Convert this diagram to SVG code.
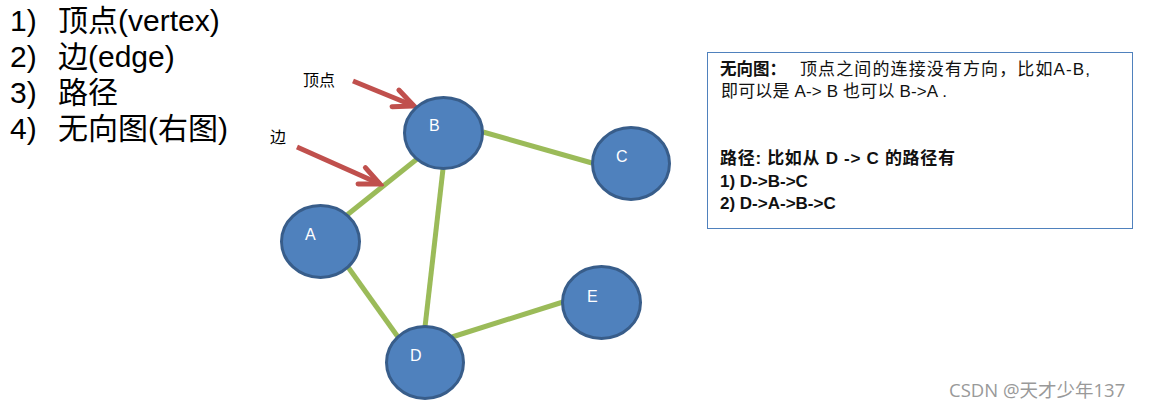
<svg xmlns="http://www.w3.org/2000/svg" width="1149" height="410" viewBox="0 0 1149 410">
<style>
.list{font-family:"Liberation Sans","Noto Sans CJK SC",sans-serif;font-size:30px;fill:#000}
.node{fill:#4F81BD;stroke:#385D8A;stroke-width:3}
.nl{font-family:"Liberation Sans","Noto Sans CJK SC",sans-serif;font-size:16px;fill:#fff}
.edge{stroke:#9BBB59;stroke-width:5;fill:none}
.red{stroke:#C0504D;stroke-width:5;fill:none}
.ann{font-family:"Liberation Serif","Noto Sans CJK SC",serif;font-size:16px;fill:#000}
.bx{font-family:"Liberation Sans","Noto Sans CJK SC",sans-serif;font-size:17px;fill:#111}
.b{font-weight:bold}
.wm{font-family:"Open Sans","Noto Sans CJK SC",sans-serif;font-size:18.5px;fill:#999}
</style>
<defs>
<marker id="ah" viewBox="-24 -12 28 24" refX="0" refY="0" markerWidth="28" markerHeight="24" markerUnits="userSpaceOnUse" orient="auto">
<path d="M-20,-9 L0,0 L-20,9" stroke="#C0504D" stroke-width="5" fill="none" stroke-linecap="round"/>
</marker>
</defs>
<g id="list">
<text class="list" x="10" y="31">1)</text><text class="list" x="58" y="31">顶点(vertex)</text>
<text class="list" x="10" y="67">2)</text><text class="list" x="58" y="67">边(edge)</text>
<text class="list" x="10" y="103">3)</text><text class="list" x="58" y="103">路径</text>
<text class="list" x="10" y="139">4)</text><text class="list" x="58" y="139">无向图(右图)</text>
</g>
<g id="connectors">
<line class="edge" x1="483" y1="132" x2="592" y2="163"/>
<line class="edge" x1="347" y1="215" x2="417" y2="159"/>
<line class="edge" x1="443" y1="169" x2="425" y2="327"/>
<line class="edge" x1="348" y1="267" x2="398" y2="337"/>
<line class="edge" x1="452" y1="337" x2="563" y2="302"/>
<line class="red" x1="353" y1="81" x2="414" y2="106" marker-end="url(#ah)"/>
<line class="red" x1="297" y1="147" x2="380" y2="184" marker-end="url(#ah)"/>
</g>
<g id="label-vertex"><text class="ann" x="303" y="86">顶点</text></g>
<g id="label-edge"><text class="ann" x="270" y="143">边</text></g>
<g id="node-B"><ellipse class="node" cx="443.5" cy="133" rx="39" ry="35.5"/><text class="nl" x="429" y="131">B</text></g>
<g id="node-C"><ellipse class="node" cx="631" cy="163.5" rx="38.5" ry="36"/><text class="nl" x="616" y="162">C</text></g>
<g id="node-A"><ellipse class="node" cx="320.5" cy="241.5" rx="39" ry="36"/><text class="nl" x="305" y="240">A</text></g>
<g id="node-D"><ellipse class="node" cx="425" cy="362.5" rx="38.5" ry="36"/><text class="nl" x="410" y="361">D</text></g>
<g id="node-E"><ellipse class="node" cx="601.5" cy="302.5" rx="39" ry="36"/><text class="nl" x="587" y="302">E</text></g>
<g id="note">
<rect x="707.5" y="52.5" width="425" height="176" fill="#fff" stroke="#4F81BD" stroke-width="1"/>
<text class="bx b" x="720" y="75" textLength="66" lengthAdjust="spacingAndGlyphs">无向图：</text>
<text class="bx" x="800" y="75" textLength="290" lengthAdjust="spacing">顶点之间的连接没有方向，比如A-B,</text>
<text class="bx" x="721" y="97" textLength="226" lengthAdjust="spacing">即可以是 A-&gt; B 也可以 B-&gt;A .</text>
<text class="bx b" x="720" y="164" font-size="17" textLength="235" lengthAdjust="spacing">路径:  比如从 D -&gt; C 的路径有</text>
<text class="bx b" x="720" y="187" font-size="15.7">1) D-&gt;B-&gt;C</text>
<text class="bx b" x="720" y="209" font-size="15.7">2) D-&gt;A-&gt;B-&gt;C</text>
</g>
<g id="watermark"><text class="wm" x="949" y="397">CSDN @天才少年137</text></g>
</svg>
